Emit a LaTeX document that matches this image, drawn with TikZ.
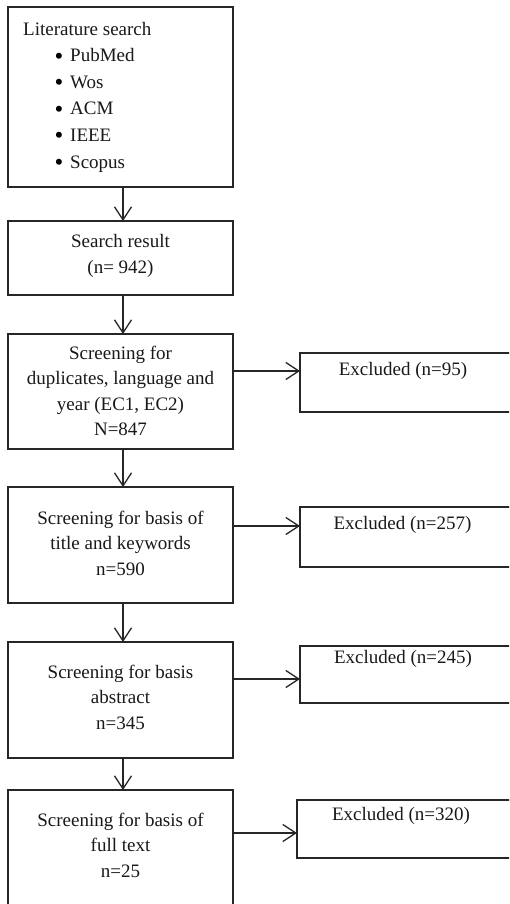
\documentclass[tikz,border=0pt]{standalone}
\usepackage{fontspec}
\setmainfont{Liberation Serif}
\usetikzlibrary{arrows.meta}
\begin{document}
\begin{tikzpicture}[x=1pt,y=-1pt,
  box/.style={draw=black!85, line width=1.3pt, rectangle, anchor=north west, inner sep=0pt, outer sep=0pt, minimum width=225pt},
  exbox/.style={draw=black!85, line width=1.3pt, rectangle, anchor=north west, inner sep=0pt, outer sep=0pt, minimum width=240pt},
  txt/.style={font=\fontsize{19}{25.5}\selectfont, align=center, inner sep=0pt, text=black!90},
  bul/.style={font=\fontsize{25}{25.5}\selectfont, inner sep=0pt, text=black, anchor=base},
  arr/.style={draw=black!85, line width=1.3pt, -{Straight Barb[length=13pt,width=17pt,line width=1.3pt]}}]
\clip (0,0) rectangle (509,904);
\useasboundingbox (0,0) rectangle (509,904);
\fill[white] (0,0) rectangle (509,904);
% main boxes
\node[box, minimum height=180pt] (b1) at (8,7) {};
\node[box, minimum height=74pt] (b2) at (8,221) {};
\node[box, minimum height=115pt] (b3) at (8,334) {};
\node[box, minimum height=116pt] (b4) at (8,487) {};
\node[box, minimum height=116pt] (b5) at (8,642) {};
\node[box, minimum height=150pt] (b6) at (8,790) {};
% excluded boxes
\node[exbox, minimum height=59pt] (x1) at (300,353) {};
\node[exbox, minimum height=60pt] (x2) at (300,507) {};
\node[exbox, minimum height=57pt] (x3) at (300,646) {};
\node[exbox, minimum height=58pt] (x4) at (297,800) {};
% box 1 text
\node[txt, anchor=base west] (t0) at (23,35.5) {Literature search};
\node[bul] (u1) at (59,64.5) {\textbullet};
\node[txt, anchor=base west] (l1) at (70,62) {PubMed};
\node[bul] (u2) at (59,91) {\textbullet};
\node[txt, anchor=base west] (l2) at (70,88.5) {Wos};
\node[bul] (u3) at (59,117.5) {\textbullet};
\node[txt, anchor=base west] (l3) at (70,115) {ACM};
\node[bul] (u4) at (59,144) {\textbullet};
\node[txt, anchor=base west] (l4) at (70,141.5) {IEEE};
\node[bul] (u5) at (59,170.5) {\textbullet};
\node[txt, anchor=base west] (l5) at (70,168) {Scopus};
% main texts
\node[txt] (t2) at (120.5,256) {Search result\\(n= 942)};
\node[txt] (t3) at (120.5,391) {Screening for\\duplicates, language and\\year (EC1, EC2)\\N=847};
\node[txt] (t4) at (120.5,543) {Screening for basis of\\title and keywords\\n=590};
\node[txt] (t5) at (120.5,697) {Screening for basis\\abstract\\n=345};
\node[txt] (t6) at (120.5,845) {Screening for basis of\\full text\\n=25};
% excluded texts
\node[txt] (e1) at (403,371) {Excluded (n=95)};
\node[txt] (e2) at (402.5,525) {Excluded (n=257)};
\node[txt] (e3) at (403,659) {Excluded (n=245)};
\node[txt] (e4) at (401,816) {Excluded (n=320)};
% vertical arrows
\draw[arr] ([xshift=2.5pt]b1.south) -- ([xshift=2.5pt]b2.north);
\draw[arr] ([xshift=2.5pt]b2.south) -- ([xshift=2.5pt]b3.north);
\draw[arr] ([xshift=2.5pt]b3.south) -- ([xshift=2.5pt]b4.north);
\draw[arr] ([xshift=2.5pt]b4.south) -- ([xshift=2.5pt]b5.north);
\draw[arr] ([xshift=2.5pt]b5.south) -- ([xshift=2.5pt]b6.north);
% horizontal arrows
\coordinate (y1) at (0,371);
\coordinate (y2) at (0,526);
\coordinate (y3) at (0,679);
\coordinate (y4) at (0,833);
\draw[arr] (b3.east |- y1) -- (x1.west |- y1);
\draw[arr] (b4.east |- y2) -- (x2.west |- y2);
\draw[arr] (b5.east |- y3) -- (x3.west |- y3);
\draw[arr] (b6.east |- y4) -- (x4.west |- y4);
\end{tikzpicture}
\end{document}
